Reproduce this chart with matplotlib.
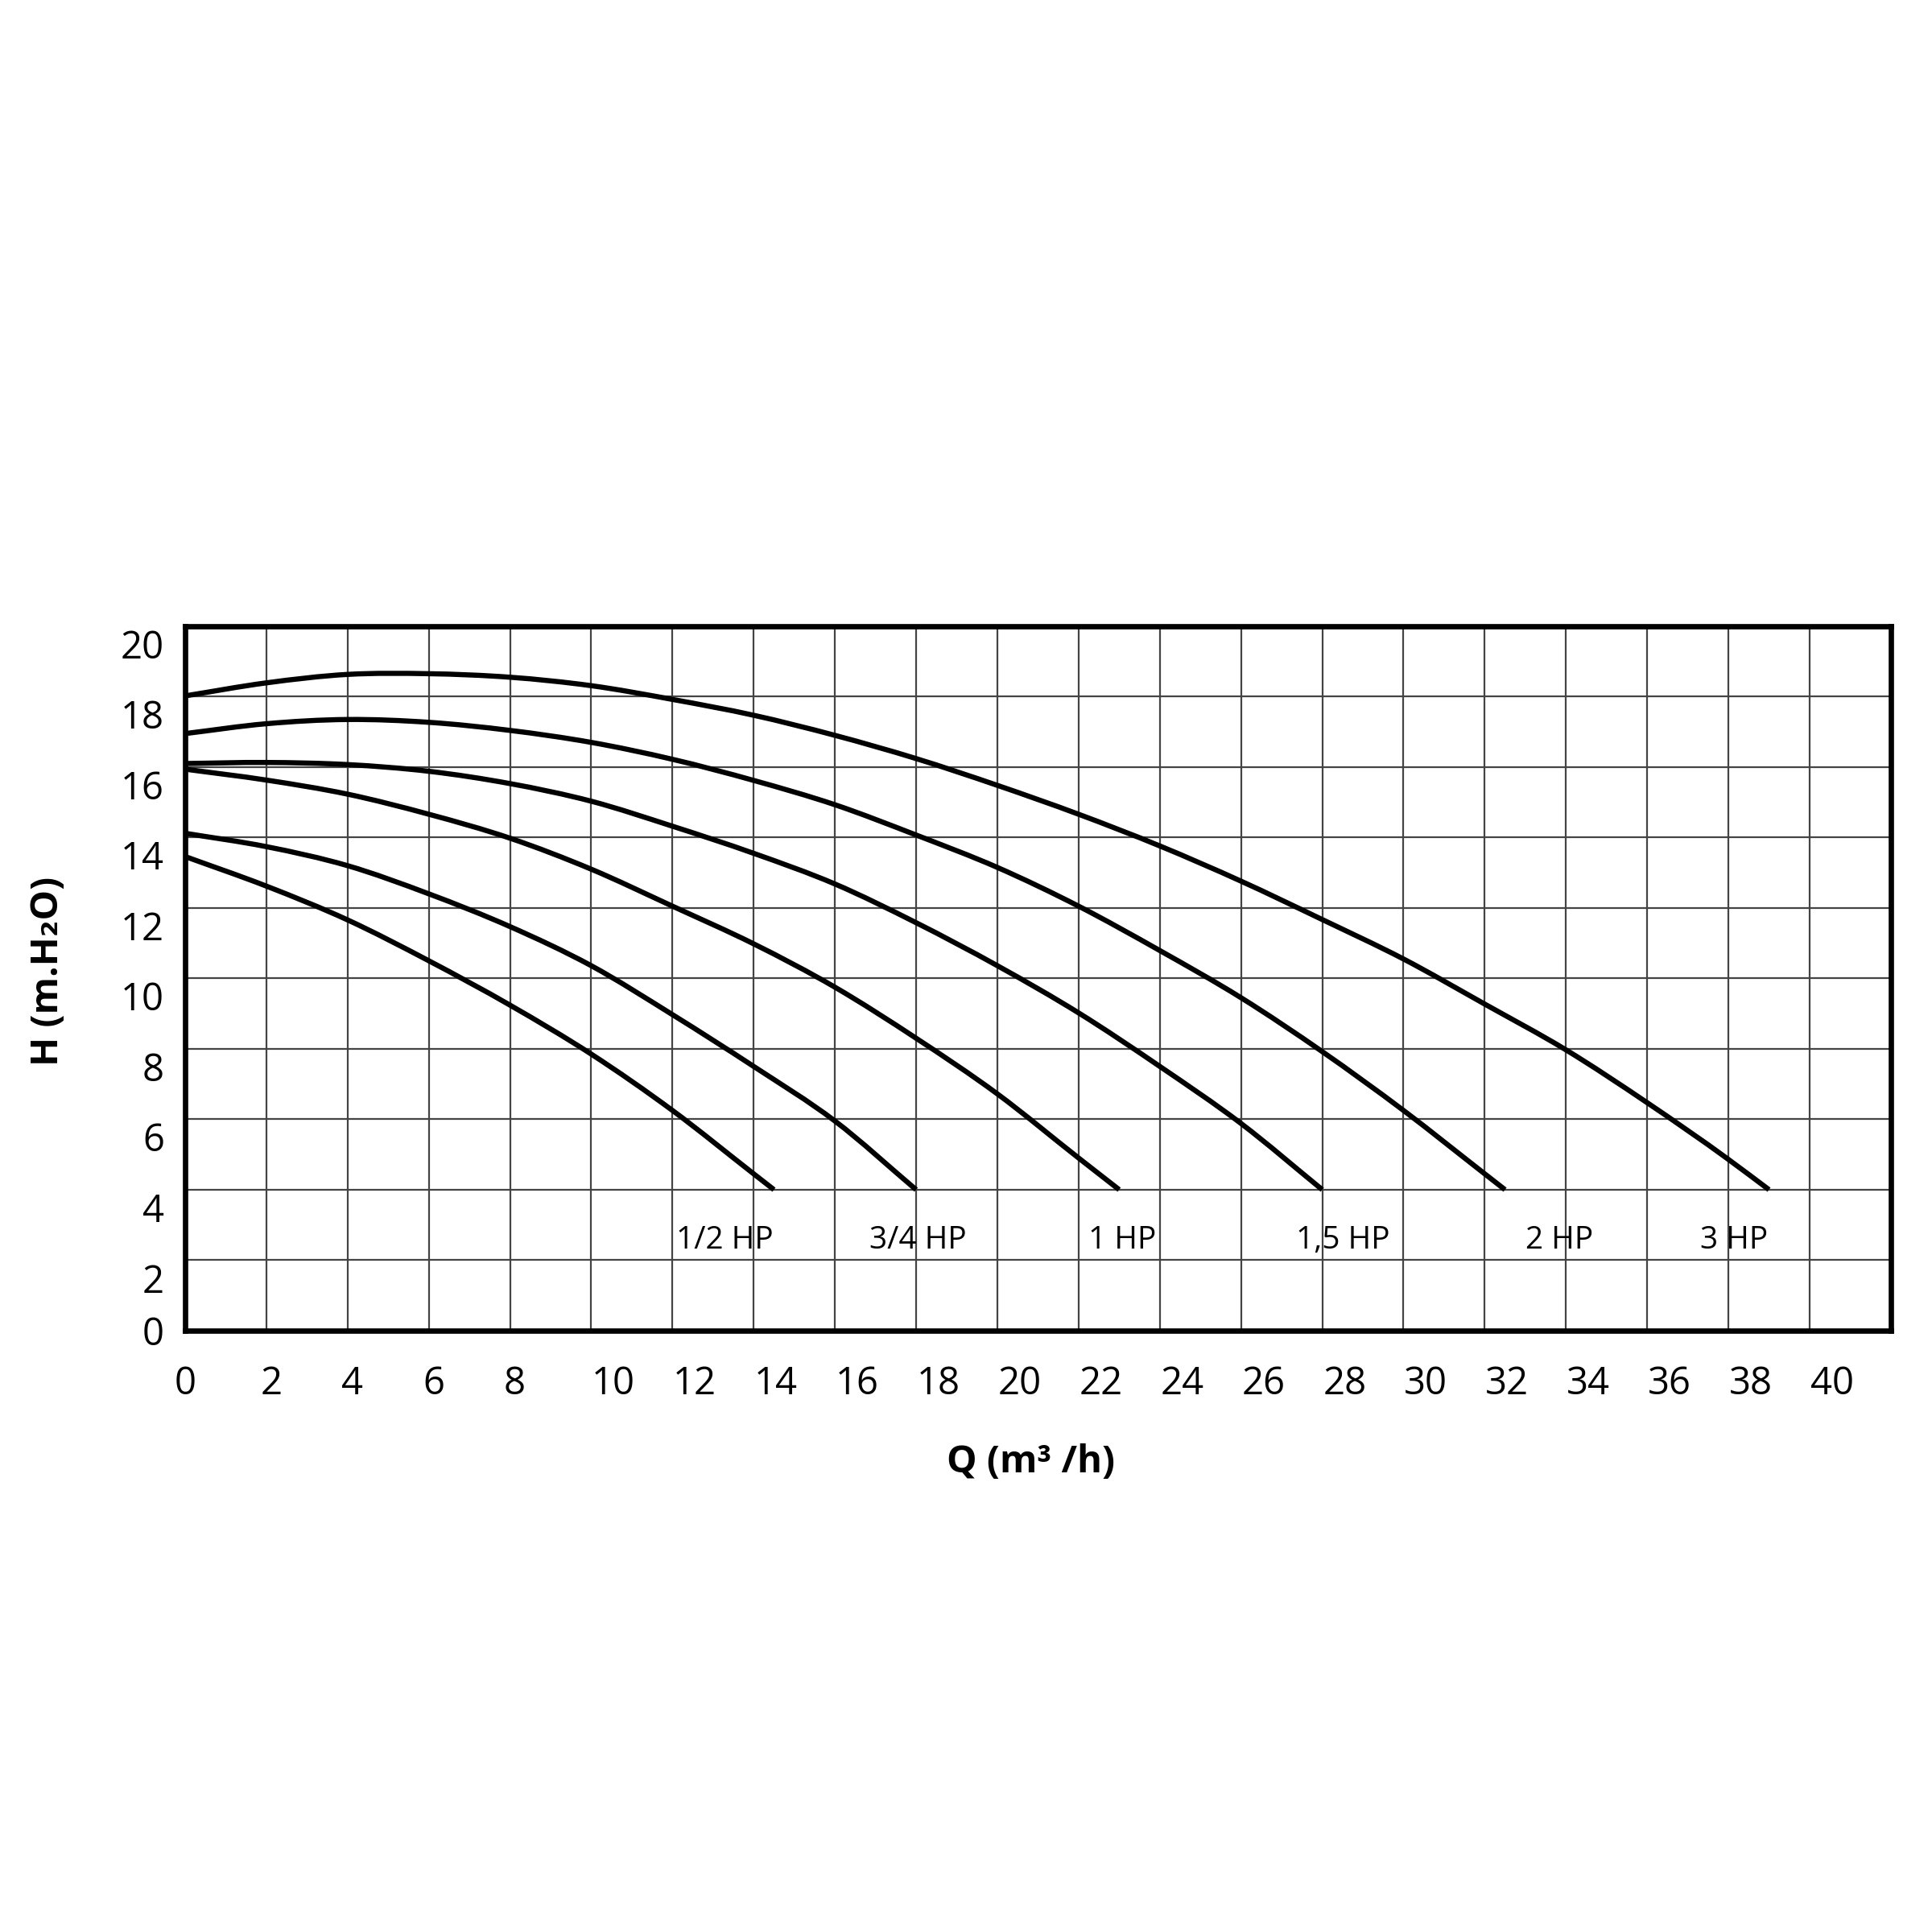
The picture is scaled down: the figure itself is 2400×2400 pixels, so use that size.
import numpy as np
import matplotlib.pyplot as plt
from matplotlib.path import Path
from matplotlib.patches import PathPatch

# Pump curves: Q in m3/h, H in metres of water
q_half_hp = [0, 2, 4, 6, 8, 10, 12, 14, 14.5]
h_half_hp = [13.46, 12.62, 11.66, 10.5, 9.24, 7.85, 6.25, 4.45, 4.0]

q_3q_hp = [0, 2, 4, 6, 8, 10, 12, 14, 16, 18]
h_3q_hp = [14.12, 13.74, 13.2, 12.4, 11.47, 10.36, 8.97, 7.5, 5.95, 4.0]

q_1_hp = [0, 2, 4, 6, 8, 10, 12, 14, 16, 18, 20, 22, 23]
h_1_hp = [15.94, 15.63, 15.23, 14.66, 13.98, 13.1, 12.05, 10.98, 9.75, 8.3, 6.72, 4.9, 4.0]

q_15_hp = [0, 2, 4, 6, 8, 10, 12, 14, 16, 18, 20, 22, 24, 26, 28]
h_15_hp = [16.10, 16.13, 16.07, 15.88, 15.53, 15.03, 14.32, 13.55, 12.68, 11.58,
           10.36, 9.02, 7.5, 5.88, 4.0]

q_2_hp = [0, 2, 4, 6, 8, 10, 12, 14, 16, 18, 20, 22, 24, 26, 28, 30, 32, 32.5]
h_2_hp = [16.95, 17.23, 17.35, 17.27, 17.04, 16.7, 16.22, 15.62, 14.93, 14.07,
          13.15, 12.05, 10.79, 9.45, 7.92, 6.25, 4.45, 4.0]

q_3_hp = [0, 2, 4, 6, 8, 10, 12, 14, 16, 18, 20, 22, 24, 26, 28, 30, 32, 34, 36, 38, 39]
h_3_hp = [18.02, 18.39, 18.63, 18.65, 18.55, 18.31, 17.92, 17.47, 16.9, 16.24,
          15.48, 14.66, 13.76, 12.76, 11.67, 10.55, 9.27, 7.97, 6.47, 4.86, 4.0]

curve_names = ['1/2 HP', '3/4 HP', '1 HP', '1,5 HP', '2 HP', '3 HP']
# where each name sits under its curve (Q, H)
name_q = [13.29, 18.05, 23.07, 28.5, 33.84, 38.13]
name_h = 2.34

q_ticks = list(range(0, 41, 2))
h_ticks = list(range(0, 21, 2))

plt.rcParams['font.family'] = ['Open Sans', 'DejaVu Sans']


def smooth_path(q, h):
    # cubic bezier through the read points so the curve has no kinks
    q = np.asarray(q, float)
    h = np.asarray(h, float)
    m = np.gradient(h, q)
    verts = [(q[0], h[0])]
    codes = [Path.MOVETO]
    for i in range(len(q) - 1):
        d = (q[i + 1] - q[i]) / 3
        verts += [(q[i] + d, h[i] + m[i] * d),
                  (q[i + 1] - d, h[i + 1] - m[i + 1] * d),
                  (q[i + 1], h[i + 1])]
        codes += [Path.CURVE4] * 3
    return Path(verts, codes)


fig = plt.figure(figsize=(12, 12), dpi=200)
ax = fig.add_axes([0.0958, 0.3113, 0.8829, 0.3646])

curves = [(q_half_hp, h_half_hp), (q_3q_hp, h_3q_hp), (q_1_hp, h_1_hp),
          (q_15_hp, h_15_hp), (q_2_hp, h_2_hp), (q_3_hp, h_3_hp)]
for q, h in curves:
    ax.add_patch(PathPatch(smooth_path(q, h), fill=False, edgecolor='black', lw=2.3,
                           capstyle='butt', joinstyle='round', zorder=2))

for name, q in zip(curve_names, name_q):
    ax.text(q, name_h, name, ha='center', va='baseline', fontsize=14)

ax.set_xlim(0, 42)
ax.set_ylim(0, 20)

# grid on every 2 units (minor ticks), labels sit a bit off the lines like the original
ax.set_xticks(np.arange(0, 43, 2), minor=True)
ax.set_yticks(np.arange(0, 21, 2), minor=True)
ax.grid(True, which='minor', color='#444444', lw=0.8)

def x_label_pos(v):
    if v == 0:
        return 0
    return v + (0.12 if v < 10 else 0.55)

def y_label_pos(v):
    if v == 0:
        return 0
    return v - 0.5

ax.set_xticks([x_label_pos(v) for v in q_ticks], [str(v) for v in q_ticks])
ax.set_yticks([y_label_pos(v) for v in h_ticks], [str(v) for v in h_ticks])
ax.tick_params(axis='both', which='both', length=0, labelsize=17)
ax.tick_params(axis='x', pad=15.5)
ax.tick_params(axis='y', pad=9.4)

for s in ax.spines.values():
    s.set_linewidth(2.4)

ax.set_xlabel('Q (m³ /h)', fontsize=17, fontweight='bold', va='center')
ax.xaxis.set_label_coords(0.496, -0.187)
ax.set_ylabel('H (m.H₂O)', fontsize=17, fontweight='bold', va='center')
ax.yaxis.set_label_coords(-0.0802, 0.510)

fig.savefig('out.png', dpi=200, facecolor='white')
